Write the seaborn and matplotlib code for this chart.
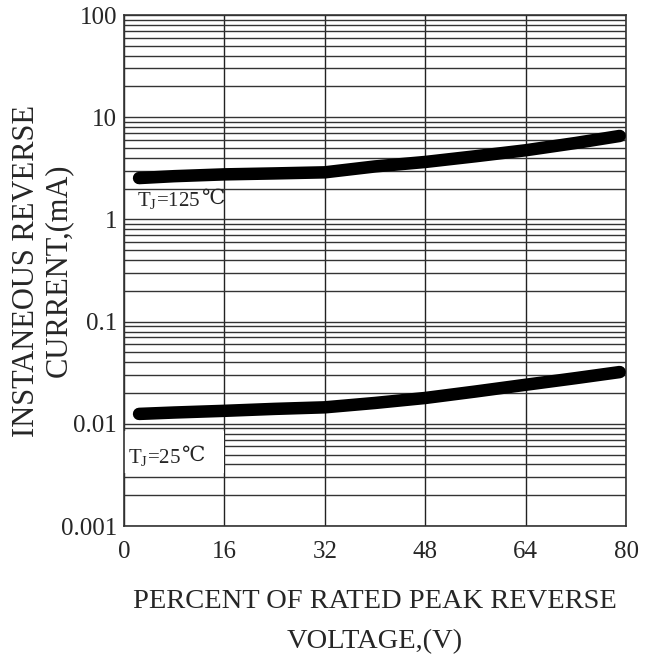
import numpy as np
import pandas as pd
import matplotlib
matplotlib.use("Agg")
import matplotlib.pyplot as plt
import matplotlib.ticker as mticker
from matplotlib.patches import Rectangle
import seaborn as sns

# Data
percent_voltage = [2.4, 8, 16, 24, 32, 40, 48, 56, 64, 72, 79]
current_125c = [2.54, 2.65, 2.76, 2.82, 2.89, 3.3, 3.65, 4.15, 4.75, 5.6, 6.56]
current_25c = [0.0125, 0.0129, 0.0134, 0.014, 0.0145, 0.016, 0.0179, 0.0207, 0.0241, 0.028, 0.0321]
x_ticks = [0, 16, 32, 48, 64, 80]
y_ticks = [0.001, 0.01, 0.1, 1, 10, 100]
y_tick_labels = ["0.001", "0.01", "0.1", "1", "10", "100"]

df = pd.DataFrame({
    "Percent": percent_voltage * 2,
    "Current": current_125c + current_25c,
    "Temp": ["125"] * len(percent_voltage) + ["25"] * len(percent_voltage),
})

sns.set_style("white")
plt.rcParams["font.family"] = ["Liberation Serif", "DejaVu Serif"]
plt.rcParams["mathtext.fontset"] = "custom"
plt.rcParams["mathtext.rm"] = "Liberation Serif"
plt.rcParams["mathtext.it"] = "Liberation Serif"

fig = plt.figure(figsize=(6.51, 6.54), dpi=100)
ax = fig.add_axes([0.1905, 0.1957, 0.7711, 0.7813])

sns.lineplot(data=df, x="Percent", y="Current", units="Temp", estimator=None,
             color="black", linewidth=9, solid_capstyle="round", ax=ax, zorder=3)

ax.set_yscale("log")
ax.set_xlim(0, 80)
ax.set_ylim(0.001, 100)
ax.set_xticks(x_ticks)
ax.set_yticks(y_ticks)
ax.set_yticklabels(y_tick_labels)
ax.yaxis.set_minor_locator(mticker.LogLocator(base=10, subs=np.arange(2, 10)))
ax.yaxis.set_minor_formatter(mticker.NullFormatter())
ax.tick_params(axis="both", which="both", length=0, labelsize=18)
ax.tick_params(axis="x", pad=11)
ax.tick_params(axis="y", pad=5)

ax.set_axisbelow(True)
ax.grid(True, axis="x", which="major", color="#222222", linewidth=1)
ax.grid(True, axis="y", which="both", color="#333333", linewidth=1)
for s in ax.spines.values():
    s.set_color("#333333")
    s.set_linewidth(1.2)

# white box behind the 25C label
ax.add_patch(Rectangle((0, 0.0033), 16, 0.0053, facecolor="white",
                       edgecolor="none", zorder=1.5))

t1 = ax.text(2.1, 1.54, "T$_J$=125", fontsize=15, va="center", ha="left", zorder=4)
ax.annotate("℃", xy=(1, 0.55), xycoords=t1, fontsize=15, va="center", ha="left", zorder=4)
t2 = ax.text(0.65, 0.0047, "T$_J$=25", fontsize=15, va="center", ha="left", zorder=4)
ax.annotate("℃", xy=(1, 0.55), xycoords=t2, fontsize=15, va="center", ha="left", zorder=4)

ax.set_xlabel("PERCENT OF RATED PEAK REVERSE\nVOLTAGE,(V)", fontsize=20.5,
              linespacing=1.75, va="top")
ax.xaxis.set_label_coords(0.5, -0.124)
ax.set_ylabel("INSTANEOUS REVERSE\nCURRENT,(mA)", fontsize=22,
              linespacing=1.15)
ax.yaxis.set_label_coords(-0.102, 0.5)

fig.savefig("out.png", dpi=100)
